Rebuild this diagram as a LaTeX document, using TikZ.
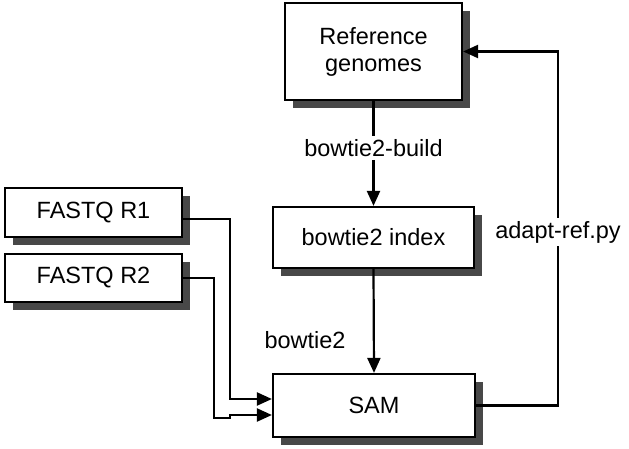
\documentclass[tikz,border=0pt]{standalone}
\usepackage{fontspec}
\setmainfont{Liberation Sans}
\usetikzlibrary{arrows.meta}
\definecolor{shadowgray}{RGB}{72,72,72}
\begin{document}
\begin{tikzpicture}[x=1pt,y=1pt,
  box/.style={draw=black, line width=2.2pt, fill=white, inner sep=0pt, align=center,
    font=\fontsize{23.5}{27}\selectfont},
  shadowfill/.style={fill=shadowgray},
  lbl/.style={font=\fontsize{23.5}{27}\selectfont, inner sep=3pt},
  conn/.style={line width=2.2pt, draw=black},
  arr/.style={conn, -{Triangle[length=15pt,width=13pt]}}
]
\useasboundingbox (0,-449) rectangle (629,0);
% shadows
\fill[shadowfill] (293,-11) rectangle (470,-108);
\fill[shadowfill] (281,-215) rectangle (482,-276);
\fill[shadowfill] (281,-382) rectangle (483,-445);
\fill[shadowfill] (13,-196) rectangle (190,-245);
\fill[shadowfill] (13,-262) rectangle (190,-310);
\node[box, minimum width=177pt, minimum height=97pt] (ref) at (373.5,-51.5) {Reference\\genomes};
\node[box, minimum width=201pt, minimum height=61pt] (idx) at (373.5,-237.5) {bowtie2 index};
\node[box, minimum width=202pt, minimum height=63pt] (sam) at (374,-405.5) {SAM};
\node[box, minimum width=177pt, minimum height=49pt] (r1) at (93.5,-212.5) {FASTQ R1};
\node[box, minimum width=177pt, minimum height=48pt] (r2) at (93.5,-278) {FASTQ R2};
\node[lbl, fill=white] (build) at (373.5,-148) {bowtie2-build};
\node[lbl] (bt2) at (305,-340) {bowtie2};
\node[lbl] (adapt) at (558,-232) {adapt-ref.py};
\draw[conn] (ref.south) -- (build.north);
\draw[arr] (build.south) -- (idx.north);
\draw[arr] (idx.south) -- (sam.north);
\draw[conn] (sam.east) -| (adapt.south);
\draw[arr] (adapt.north) |- (ref.east);
\draw[arr] ([yshift=-6.5pt]r1.east) -- (230,-219) -- (230,-399) -- ([yshift=6.5pt]sam.west);
\draw[arr] (r2.east) -- (214,-278) -- (214,-418) -- (230,-418) -- (230,-415) -- ([yshift=-9.5pt]sam.west);
\end{tikzpicture}
\end{document}
